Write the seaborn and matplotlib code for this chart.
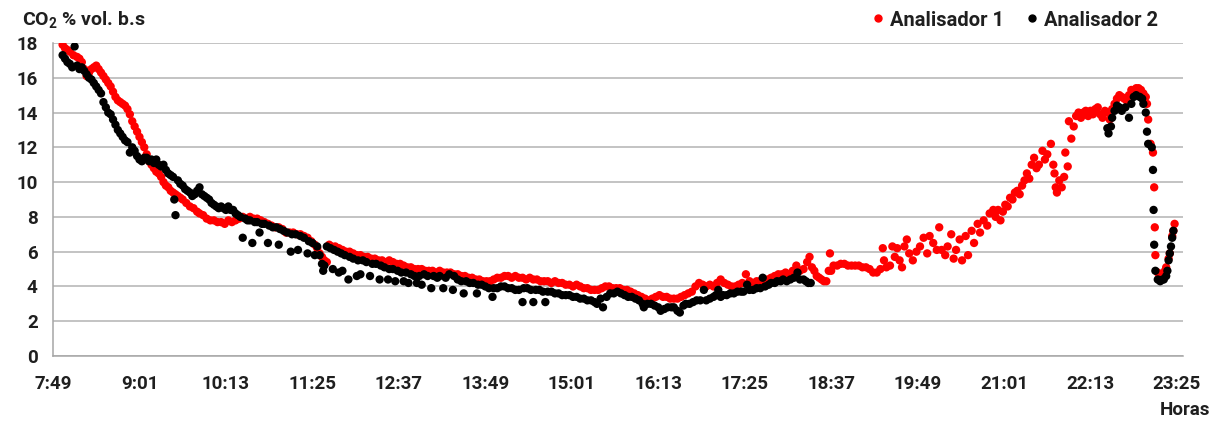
import matplotlib
matplotlib.use("Agg")
import matplotlib.pyplot as plt
import numpy as np
import pandas as pd
import seaborn as sns

# Time axis: minutes elapsed since 7:49
xtick_labels = ["7:49", "9:01", "10:13", "11:25", "12:37", "13:49", "15:01",
                "16:13", "17:25", "18:37", "19:49", "21:01", "22:13", "23:25"]

series_names = ["Analisador 1", "Analisador 2"]
series_colors = ["#ff0000", "#000000"]

# Analisador 1 readings (minutes since 7:49, CO2 % vol. dry basis)
t_a1 = [8, 10, 12, 14, 17, 20, 22, 24, 26, 28, 30, 32, 34, 36, 38, 40, 42, 44, 46, 48,
        50, 52, 54, 56, 58, 60, 62, 64, 66, 68, 70, 72, 74, 76, 78, 80, 82, 84, 86, 88,
        90, 92, 94, 96, 98, 100, 102, 104, 106, 108, 111, 114, 117, 120, 122, 125, 128, 131, 134, 137,
        140, 143, 146, 149, 152, 155, 158, 161, 164, 167, 170, 173, 176, 179, 182, 185, 188, 191, 194, 197,
        200, 203, 206, 209, 212, 215, 218, 220, 222, 224, 226, 228, 230, 232, 235, 238, 241, 244, 247, 250,
        253, 256, 259, 262, 265, 268, 271, 274, 277, 280, 283, 286, 289, 292, 295, 298, 301, 304, 307, 310,
        313, 316, 319, 322, 325, 328, 331, 334, 337, 340, 343, 346, 349, 352, 355, 358, 361, 364, 367, 370,
        373, 376, 379, 382, 385, 388, 391, 394, 397, 400, 403, 406, 409, 412, 415, 418, 421, 424, 427, 430,
        433, 436, 439, 442, 445, 448, 451, 454, 457, 460, 463, 466, 469, 472, 475, 478, 481, 484, 487, 490,
        493, 496, 499, 502, 505, 508, 511, 514, 517, 520, 523, 526, 529, 532, 535, 538, 541, 544, 547, 550,
        553, 556, 559, 562, 565, 568, 571, 574, 577, 580, 583, 586, 589, 592, 595, 598, 601, 604, 607, 610,
        613, 616, 619, 622, 625, 628, 630, 632, 634, 636, 638, 640, 642, 644, 646, 647, 648, 650, 653, 656,
        659, 662, 665, 668, 671, 674, 677, 680, 683, 686, 689, 691, 692, 694, 697, 699, 701, 703, 705, 707,
        709, 711, 713, 716, 719, 722, 725, 728, 730, 733, 736, 738, 740, 743, 745, 748, 750, 752, 755, 757,
        760, 762, 765, 767, 770, 772, 775, 778, 780, 783, 785, 787, 789, 791, 793, 795, 797, 799, 801, 803,
        805, 807, 809, 811, 813, 815, 817, 819, 821, 824, 826, 828, 831, 833, 834, 835, 836, 838, 840, 842,
        843, 845, 846, 848, 850, 852, 854, 856, 858, 860, 862, 864, 866, 868, 870, 872, 874, 876, 878, 880,
        882, 884, 886, 888, 890, 892, 894, 896, 898, 900, 902, 904, 906, 908, 910, 911, 912, 914, 916, 917,
        917.5, 918, 920, 922, 924, 926, 927, 929, 930, 932, 933, 934]
co2_a1 = [17.9, 17.7, 17.6, 17.5, 17.3, 17.2, 17.1, 16.9, 16.5, 16.1, 16.3, 16.5, 16.6, 16.7, 16.5, 16.3, 16.1, 15.9, 15.7, 15.5,
          15.2, 14.9, 14.7, 14.6, 14.5, 14.4, 14.2, 13.9, 13.5, 13.2, 12.9, 12.6, 12.3, 12.0, 11.6, 11.2, 11.0, 10.8, 10.6, 10.5,
          10.3, 10.0, 9.8, 9.7, 9.5, 9.4, 9.3, 9.2, 9.1, 9.0, 8.8, 8.6, 8.5, 8.3, 8.2, 8.1, 7.9, 7.8, 7.8, 7.7,
          7.7, 7.6, 7.8, 7.7, 7.8, 7.9, 8.0, 7.9, 8.0, 7.9, 7.9, 7.8, 7.7, 7.6, 7.5, 7.4, 7.4, 7.3, 7.1, 7.1,
          7.1, 7.0, 7.0, 6.9, 6.8, 6.6, 6.4, 6.2, 5.9, 5.7, 5.5, 5.4, 6.4, 6.3, 6.3, 6.2, 6.1, 6.0, 6.0, 5.9,
          5.8, 5.8, 5.7, 5.7, 5.6, 5.6, 5.5, 5.5, 5.4, 5.5, 5.4, 5.3, 5.3, 5.2, 5.1, 5.1, 5.0, 5.0, 5.0, 4.9,
          4.9, 4.9, 4.8, 4.9, 4.8, 4.8, 4.8, 4.7, 4.7, 4.6, 4.6, 4.5, 4.5, 4.4, 4.4, 4.3, 4.3, 4.3, 4.4, 4.5,
          4.5, 4.6, 4.6, 4.5, 4.6, 4.5, 4.5, 4.4, 4.5, 4.4, 4.4, 4.3, 4.3, 4.3, 4.2, 4.3, 4.2, 4.2, 4.1, 4.1,
          4.0, 4.1, 4.0, 3.9, 3.9, 3.8, 3.8, 3.8, 3.9, 4.0, 4.0, 3.9, 3.9, 3.9, 3.8, 3.8, 3.7, 3.6, 3.5, 3.4,
          3.3, 3.2, 3.3, 3.4, 3.5, 3.4, 3.4, 3.3, 3.3, 3.3, 3.4, 3.5, 3.6, 3.7, 4.0, 4.2, 4.1, 4.0, 4.1, 4.0,
          4.2, 4.4, 4.2, 4.1, 4.0, 4.0, 4.1, 4.2, 4.7, 4.3, 4.2, 4.3, 4.3, 4.4, 4.4, 4.5, 4.6, 4.7, 4.7, 4.8,
          4.7, 4.9, 5.2, 4.9, 5.0, 5.4, 5.7, 5.1, 4.9, 4.6, 4.5, 4.4, 4.3, 4.3, 4.9, 5.9, 4.9, 5.2, 5.2, 5.3,
          5.3, 5.2, 5.2, 5.2, 5.2, 5.1, 5.1, 5.0, 4.8, 4.8, 5.0, 6.2, 5.5, 5.1, 5.2, 6.3, 5.7, 6.2, 5.5, 5.1,
          6.3, 6.7, 5.9, 5.5, 6.0, 6.3, 6.8, 5.9, 6.9, 6.5, 6.1, 7.4, 6.1, 5.8, 6.3, 7.0, 5.6, 6.1, 6.7, 5.5,
          6.9, 5.8, 7.2, 6.5, 7.6, 7.1, 7.8, 7.5, 8.2, 8.4, 8.0, 8.4, 7.8, 8.3, 8.7, 8.6, 9.1, 9.0, 9.4, 9.5,
          9.3, 9.8, 10.1, 10.5, 10.2, 11.0, 11.4, 10.8, 11.0, 11.8, 11.3, 11.6, 12.2, 11.0, 10.5, 9.7, 9.4, 10.1, 9.7, 10.3,
          11.7, 10.9, 13.5, 12.5, 13.2, 13.8, 14.0, 13.7, 14.0, 14.1, 13.8, 14.1, 13.9, 14.2, 14.3, 13.9, 13.7, 14.1, 14.0, 13.6,
          14.2, 14.5, 14.8, 15.0, 14.9, 14.8, 14.7, 15.0, 15.3, 15.2, 15.4, 15.4, 15.3, 15.1, 14.9, 14.5, 13.6, 12.2, 11.7, 9.7,
          7.4, 5.8, 4.8, 4.7, 4.7, 4.9, 5.1, 5.6, 5.9, 6.9, 7.2, 7.6]

# Analisador 2 readings
t_a2 = [8, 10, 12, 14, 16, 18, 20, 22, 24, 26, 28, 30, 32, 34, 36, 38, 40, 42, 44, 46,
        48, 50, 52, 54, 56, 58, 60, 62, 64, 66, 68, 70, 72, 74, 76, 78, 80, 82, 84, 86,
        88, 90, 92, 94, 96, 98, 100, 101, 102, 104, 106, 108, 110, 112, 114, 116, 118, 120, 122, 124,
        126, 128, 130, 132, 134, 136, 138, 140, 142, 144, 146, 148, 150, 152, 154, 156, 158, 160, 162, 164,
        166, 168, 170, 172, 174, 176, 179, 180, 183, 186, 188, 189, 192, 195, 198, 199, 202, 204, 206, 209,
        212, 213, 216, 218, 220, 222, 224, 225, 226, 228, 231, 233, 234, 237, 238, 240, 241, 243, 246, 247,
        250, 253, 254, 256, 258, 261, 264, 266, 269, 272, 273, 276, 279, 280, 283, 285, 287, 290, 292, 294,
        296, 298, 301, 303, 305, 307, 309, 312, 315, 317, 320, 322, 325, 327, 330, 333, 334, 337, 340, 342,
        344, 347, 350, 353, 354, 357, 360, 363, 366, 367, 370, 373, 376, 379, 382, 385, 388, 391, 392, 395,
        398, 400, 402, 405, 408, 410, 412, 415, 418, 421, 424, 427, 430, 433, 436, 439, 442, 445, 448, 451,
        453, 456, 458, 461, 464, 467, 470, 473, 476, 479, 482, 485, 488, 491, 492, 495, 498, 501, 504, 506,
        509, 512, 515, 517, 520, 522, 525, 527, 530, 533, 536, 539, 542, 544, 547, 550, 552, 554, 556, 558,
        561, 564, 567, 570, 573, 575, 578, 580, 583, 586, 589, 591, 593, 596, 598, 601, 603, 606, 608, 611,
        614, 617, 620, 622, 625, 627, 629, 631,
        878, 879, 881, 882, 884, 886, 888, 890, 893, 896, 898, 900, 902, 905, 907, 908, 910, 911, 912, 915,
        916, 916.5, 917, 918, 920, 922, 924, 925, 927, 928, 929, 930, 931, 932, 933]
co2_a2 = [17.3, 17.1, 16.9, 16.8, 16.6, 17.8, 16.7, 16.5, 16.6, 16.4, 16.2, 16.0, 15.9, 15.7, 15.5, 15.3, 15.1, 14.6, 14.3, 14.0,
          13.9, 13.6, 13.3, 13.0, 12.8, 12.6, 12.4, 12.3, 11.7, 12.0, 11.8, 11.5, 11.3, 11.2, 11.4, 11.4, 11.2, 11.3, 11.1, 11.3,
          11.0, 10.9, 11.0, 10.7, 10.5, 10.4, 10.3, 9.0, 8.1, 10.1, 9.9, 9.8, 9.6, 9.5, 9.4, 9.2, 9.3, 9.5, 9.7, 9.3,
          9.2, 9.1, 9.0, 8.8, 8.7, 8.6, 8.5, 8.6, 8.5, 8.4, 8.6, 8.4, 8.4, 8.2, 8.1, 8.0, 6.8, 7.9, 7.8, 7.8,
          6.5, 7.7, 7.7, 7.1, 7.6, 7.6, 6.5, 7.5, 7.4, 7.4, 6.4, 7.3, 7.2, 7.1, 6.0, 7.0, 7.0, 6.1, 6.9, 6.8,
          5.9, 6.6, 6.5, 5.8, 6.3, 5.8, 5.3, 4.9, 5.2, 6.3, 6.2, 5.0, 6.1, 6.0, 4.8, 5.9, 4.9, 5.8, 4.4, 5.7,
          5.6, 4.6, 5.5, 4.7, 5.5, 5.4, 4.6, 5.3, 5.3, 4.4, 5.2, 5.1, 4.4, 5.0, 5.0, 4.3, 4.9, 4.8, 4.3, 4.8,
          4.2, 4.7, 4.6, 4.2, 4.6, 4.1, 4.7, 4.6, 3.9, 4.6, 4.5, 4.6, 3.9, 4.5, 4.7, 3.8, 4.6, 4.4, 4.3, 3.6,
          4.3, 4.2, 4.2, 3.6, 4.1, 4.1, 4.0, 3.9, 3.4, 3.9, 3.9, 4.0, 4.0, 3.9, 3.9, 3.8, 3.8, 3.1, 3.9, 3.9,
          3.8, 3.1, 3.8, 3.8, 3.7, 3.1, 3.7, 3.7, 3.6, 3.6, 3.5, 3.5, 3.5, 3.4, 3.4, 3.3, 3.3, 3.2, 3.2, 3.1,
          3.0, 3.3, 2.8, 3.4, 3.6, 3.6, 3.7, 3.6, 3.5, 3.4, 3.4, 3.3, 3.2, 3.0, 2.8, 3.0, 3.0, 2.9, 2.8, 2.6,
          2.7, 2.8, 2.8, 2.8, 2.6, 2.5, 2.9, 3.0, 3.0, 3.1, 3.2, 3.2, 3.8, 3.2, 3.3, 3.4, 3.5, 3.8, 3.4, 3.5,
          3.5, 3.6, 3.6, 3.7, 3.7, 3.7, 4.1, 3.8, 3.8, 3.9, 3.9, 4.5, 4.0, 4.1, 4.2, 4.2, 4.3, 4.3, 4.4, 4.3,
          4.4, 4.5, 4.8, 4.4, 4.4, 4.3, 4.2, 4.2,
          13.1, 12.8, 13.2, 13.7, 14.1, 14.4, 14.3, 14.1, 14.3, 13.7, 14.5, 14.9, 15.0, 14.9, 14.8, 14.5, 14.0, 12.9, 12.2, 12.0,
          10.7, 8.4, 6.4, 4.9, 4.4, 4.3, 4.4, 4.4, 4.6, 4.9, 5.5, 5.9, 6.3, 6.8, 7.2]


def to_minutes(label, start="7:49"):
    h, m = map(int, label.split(":"))
    h0, m0 = map(int, start.split(":"))
    return (h * 60 + m) - (h0 * 60 + m0)


df = pd.concat([
    pd.DataFrame({"t": t_a1, "co2": co2_a1, "Analisador": series_names[0]}),
    pd.DataFrame({"t": t_a2, "co2": co2_a2, "Analisador": series_names[1]}),
], ignore_index=True)

sns.set_theme(style="white")
plt.rcParams["font.family"] = ["Roboto", "DejaVu Sans"]
plt.rcParams["font.weight"] = "bold"
plt.rcParams["mathtext.fontset"] = "custom"
plt.rcParams["mathtext.rm"] = "Roboto:bold"
plt.rcParams["mathtext.bf"] = "Roboto:bold"

TEXT = "#1f1f1f"
W, H = 1218, 422
fig = plt.figure(figsize=(W / 100, H / 100), dpi=100)
ax = fig.add_axes([53 / W, 1 - 356 / H, (1183 - 53) / W, (356 - 43) / H])

sns.scatterplot(data=df, x="t", y="co2", hue="Analisador", hue_order=series_names,
                palette=series_colors, s=36, edgecolor="none", linewidth=0,
                ax=ax, legend=False, zorder=3)

xt = [to_minutes(l) for l in xtick_labels]
ax.set_xlim(0, 941)
ax.set_ylim(0, 18)
ax.set_xticks(xt)
ax.set_xticklabels(xtick_labels)
ax.set_yticks(np.arange(0, 19, 2))
ax.tick_params(axis="both", labelsize=13.5, colors="#a0a0a0", labelcolor=TEXT,
               length=6, width=1, direction="out")
ax.tick_params(axis="x", pad=8)
ax.tick_params(axis="y", pad=5)
for lbl in ax.get_xticklabels() + ax.get_yticklabels():
    lbl.set_fontweight("bold")

ax.grid(axis="y", color="#b3b3b3", linewidth=1.1, zorder=0)
ax.grid(axis="x", visible=False)
for side in ["top", "right"]:
    ax.spines[side].set_visible(False)
for side in ["left", "bottom"]:
    ax.spines[side].set_color("#a6a6a6")
    ax.spines[side].set_linewidth(1.1)
ax.set_xlabel("")
ax.set_ylabel("")

fig.text(22 / W, 1 - 20 / H, r"CO$_\mathregular{2}$ % vol. b.s", fontsize=14,
         fontweight="bold", color=TEXT, va="center", ha="left")
fig.text(1210 / W, 1 - 410 / H, "Horas", fontsize=13.5, fontweight="bold",
         color=TEXT, va="center", ha="right")

handles = [plt.Line2D([], [], marker="o", linestyle="none", markersize=5,
                      markerfacecolor=c, markeredgecolor=c) for c in series_colors]
fig.legend(handles, series_names, loc="center right", bbox_to_anchor=(1166 / W, 1 - 20 / H),
           ncol=2, frameon=False, prop={"size": 14.5, "weight": "bold"},
           handletextpad=0.3, columnspacing=1.1, handlelength=0.6, borderaxespad=0,
           labelcolor=TEXT)

fig.savefig("out.png", dpi=100)
